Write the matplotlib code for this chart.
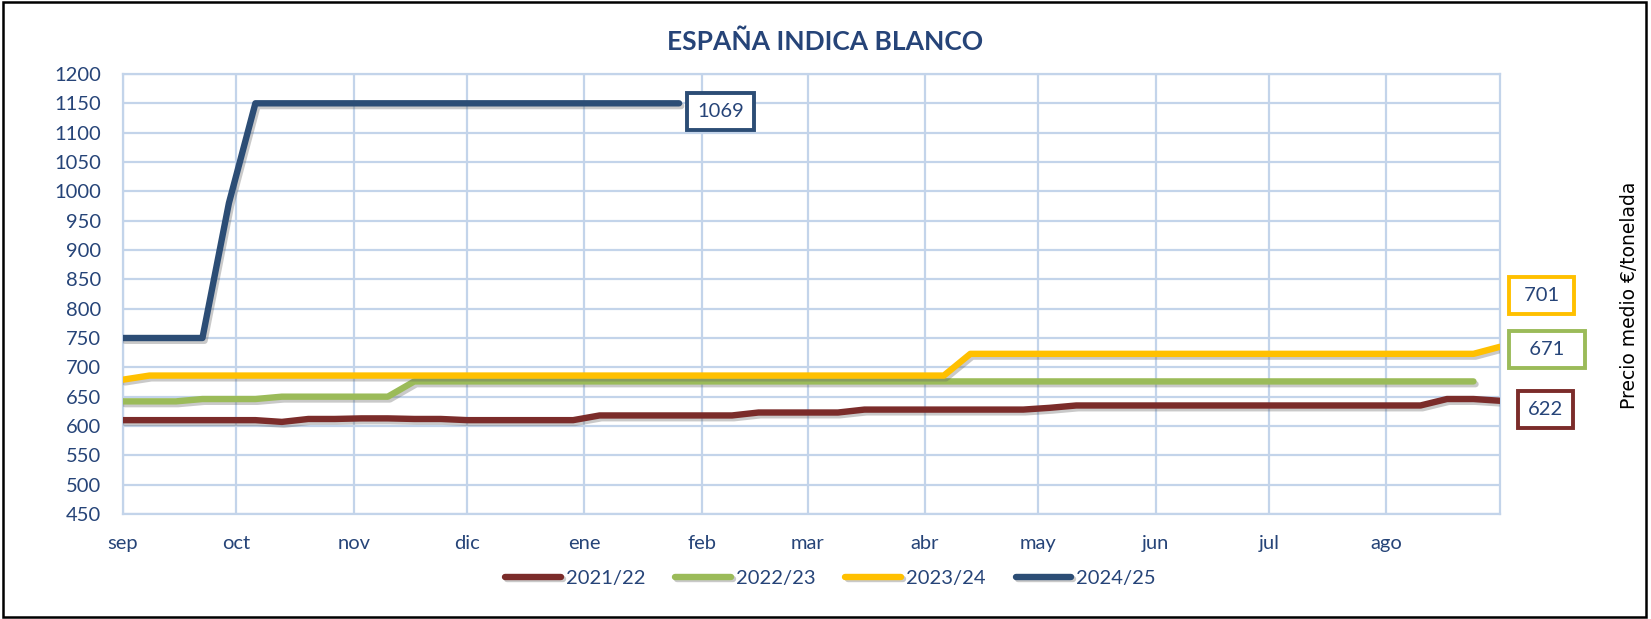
import matplotlib
matplotlib.use("Agg")
import matplotlib.pyplot as plt
import matplotlib.patheffects as pe
from matplotlib.patches import Rectangle

# semanas desde el 1 de septiembre (dias = semana * 7)
red_2122 = [610, 610, 610, 610, 610, 610, 607, 612, 612, 613, 613, 612, 612,
            610, 610, 610, 610, 610, 618, 618, 618, 618, 618, 618, 623, 623,
            623, 623, 628, 628, 628, 628, 628, 628, 628, 631, 635, 635, 635,
            635, 635, 635, 635, 635, 635, 635, 635, 635, 635, 635, 646, 646, 643]
green_2223 = [642, 642, 642, 646, 646, 646, 650, 650, 650, 650, 650] + [676] * 41
yellow_2324 = [679] + [686] * 31 + [723] * 20 + [735]
blue_2425 = [750, 750, 750, 750, 980] + [1150] * 17

series_names = ["2021/22", "2022/23", "2023/24", "2024/25"]
series_values = [red_2122, green_2223, yellow_2324, blue_2425]
colors = ["#7B2C2A", "#9BBB59", "#FFC000", "#2C4D75"]

end_labels = ["622", "671", "701", "1069"]

month_labels = ["sep", "oct", "nov", "dic", "ene", "feb", "mar", "abr",
                "may", "jun", "jul", "ago"]
month_days = [0, 30, 61, 91, 122, 153, 181, 212, 242, 273, 303, 334]

text_color = "#264478"
grid_color = "#C3D4EA"

plt.rcParams["font.family"] = ["Lato", "DejaVu Sans"]

fig = plt.figure(figsize=(16.51, 6.19), dpi=100)
ax = fig.add_axes([0.0745, 0.1696, 0.834, 0.7109])

shadow = [pe.SimpleLineShadow(offset=(1.5, -2), shadow_color="#666666", alpha=0.35),
          pe.Normal()]

lines = []
for name, vals, col in zip(series_names, series_values, colors):
    x = [w * 7 for w in range(len(vals))]
    ln, = ax.plot(x, vals, color=col, lw=4.6, solid_capstyle="round",
                  solid_joinstyle="round", label=name, path_effects=shadow,
                  zorder=3)
    lines.append(ln)

ax.set_xlim(0, 364)
ax.set_ylim(450, 1200)
ax.set_yticks(range(450, 1201, 50))
ax.set_xticks(month_days)
ax.set_xticklabels(month_labels)
ax.tick_params(axis="y", length=0, pad=16, labelsize=14.5, labelcolor=text_color)
ax.tick_params(axis="x", length=0, pad=15, labelsize=14.5, labelcolor=text_color)

ax.grid(True, color=grid_color, lw=1.6)
ax.set_axisbelow(True)
for side in ["left", "bottom", "right", "top"]:
    ax.spines[side].set_color(grid_color)
    ax.spines[side].set_linewidth(1.6)

# etiquetas de los valores finales
offsets = [(33, -6), (53, 23), (30, 37), (30, -6)]
pads = ["", "  ", " ", ""]
for ln, lab, col, off, sp in zip(lines, end_labels, colors, offsets, pads):
    xd, yd = ln.get_data()
    ax.annotate(sp + lab + sp, xy=(xd[-1], yd[-1]), xytext=off,
                textcoords="offset points", ha="center", va="center",
                fontsize=14.5, color=text_color, annotation_clip=False,
                bbox=dict(boxstyle="square,pad=0.5", fc="white", ec=col, lw=2.8))

fig.text(0.5, 0.932, "ESPAÑA INDICA BLANCO", ha="center", va="center",
         fontsize=19, fontweight="bold", color=text_color)

fig.text(0.987, 0.523, "Precio medio €/tonelada", rotation=90, ha="center",
         va="center", fontsize=13.5, color="black", family="DejaVu Sans")

fig.legend(handles=lines, loc="center", bbox_to_anchor=(0.503, 0.066), ncol=4,
           frameon=False, fontsize=14.5, labelcolor=text_color, handlelength=2.75,
           handletextpad=0.25, columnspacing=1.5)

fig.patches.append(Rectangle((0.002, 0.004), 0.995, 0.992, transform=fig.transFigure,
                             fill=False, ec="black", lw=1.8))

plt.savefig("out.png", dpi=100)
plt.close()
